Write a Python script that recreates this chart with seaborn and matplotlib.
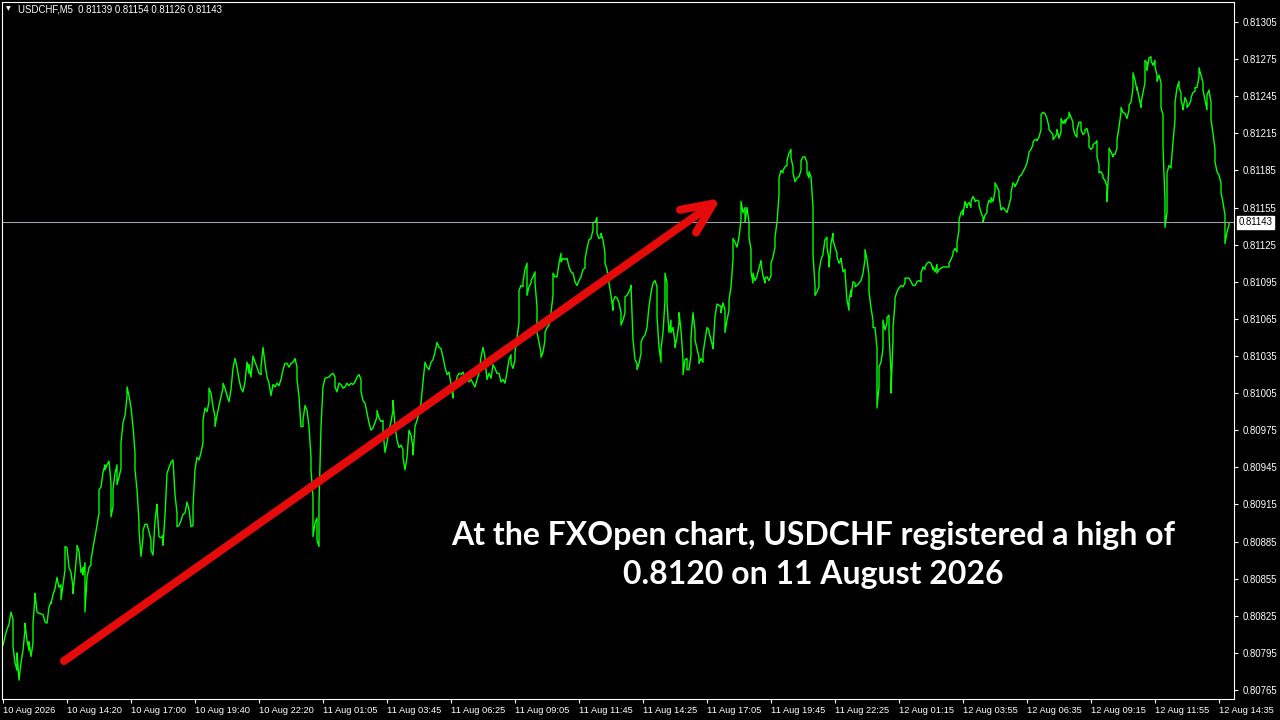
import matplotlib
matplotlib.use("Agg")
import matplotlib.pyplot as plt
import pandas as pd
import seaborn as sns

# USDCHF M5 closes (bar number from the first visible bar)
bar = [
    0, 1, 2, 3, 4, 5, 5, 6, 7, 7,
    8, 9, 10, 11, 11, 12, 13, 13, 14, 15,
    15, 16, 16, 17, 18, 20, 21, 22, 23, 24,
    24, 25, 26, 27, 28, 29, 29, 30, 31, 31,
    32, 33, 34, 35, 35, 36, 37, 37, 38, 39,
    40, 40, 41, 41, 42, 43, 44, 44, 45, 46,
    47, 48, 48, 49, 50, 51, 51, 52, 53, 54,
    54, 55, 55, 56, 57, 57, 58, 59, 59, 60,
    61, 62, 62, 63, 64, 65, 66, 66, 67, 68,
    68, 69, 70, 70, 71, 72, 73, 74, 74, 75,
    76, 77, 77, 78, 79, 80, 80, 81, 82, 83,
    84, 85, 86, 87, 87, 88, 89, 90, 91, 92,
    93, 94, 95, 95, 96, 97, 98, 99,
    100, 100, 101, 102, 103, 103, 104, 105, 106, 106,
    107, 108, 109, 110, 110, 111, 112, 113, 114, 115,
    116, 117, 118, 119, 120, 121, 122, 123, 123, 124,
    125, 126, 127, 128, 129, 129, 130, 131, 132, 133,
    134, 135, 136, 137, 138, 139, 140, 141, 142, 143,
    144, 145, 146, 147, 147, 148, 149, 150, 150, 151,
    152, 153, 154, 154, 155, 155, 156, 157, 157, 158,
    158, 159, 160, 160, 161, 163, 164, 165, 166, 166,
    167, 168, 169, 170, 171, 172, 173, 174, 175, 176,
    177, 178, 179, 179, 180, 181, 182, 183, 184, 185,
    186, 187, 187, 188, 189, 190, 190, 191, 192, 193,
    194, 195, 195, 196, 197, 198, 199,
    200, 200, 201, 202, 203, 204, 205, 205, 206, 207,
    208, 209, 210, 211, 212, 213, 214, 215, 216, 217,
    218, 219, 220, 221, 222, 223, 224, 225, 225, 226,
    227, 228, 229, 230, 231, 232, 233, 234, 235, 236,
    237, 238, 239, 240, 241, 241, 242, 243, 244, 245,
    246, 247, 248, 249, 250, 251, 252, 253, 254, 254,
    255, 256, 256, 257, 258, 258, 259, 260, 260, 261,
    262, 262, 263, 264, 264, 265, 266, 266, 267, 267,
    268, 269, 269, 270, 271, 271, 272, 273, 274, 275,
    275, 276, 277, 278, 279, 279, 280, 281, 282, 283,
    284, 285, 286, 287, 288, 289, 290, 291, 291, 292,
    293, 294, 295, 295, 296, 297, 297, 298, 299, 299,
    300, 301, 301, 302, 303, 304, 305, 305, 306, 307,
    308, 309, 309, 310, 311, 311, 312, 313, 314, 314,
    315, 316, 317, 317, 318, 319, 319, 320, 321, 322,
    323, 324, 325, 326, 327, 327, 328, 329, 329, 330,
    331, 331, 332, 332, 333, 334, 334, 335, 336, 336,
    337, 338, 338, 339, 340, 340, 341, 342, 342, 343,
    344, 344, 345, 346, 346, 347, 348, 348, 349, 350,
    350, 351, 352, 353, 353, 354, 355, 355, 356, 357,
    358, 359, 359, 360, 361, 361, 362, 363, 363, 364,
    365, 365, 366, 367, 368, 369, 369, 370, 371, 371,
    372, 373, 373, 374, 374, 375, 375, 376, 377, 377,
    378, 379, 379, 380, 381, 381, 382, 383, 384, 384,
    385, 386, 386, 387, 388, 388, 389, 390, 390, 391,
    392, 392, 393, 394, 394, 395, 395, 396, 397, 398,
    399,
    399, 400, 401, 402, 402, 403, 403, 404, 405, 405,
    406, 406, 407, 408, 408, 409, 410, 410, 411, 412,
    412, 413, 413, 414, 415, 415, 416, 417, 417, 418,
    419, 419, 420, 421, 421, 422, 423, 423, 424, 424,
    425, 426, 426, 427, 428, 429, 430, 431, 431, 432,
    433, 433, 434, 435, 435, 436, 437, 437, 438, 438,
    439, 440, 440, 441, 442, 442, 443, 443, 444, 444,
    445, 445, 446, 446, 447, 448, 449, 450, 451, 451,
    452, 453, 454, 455, 456, 457, 458, 459, 459, 460,
    461, 461, 462, 463, 464, 465, 465, 466, 467, 467,
    468, 469, 470, 471, 472, 473, 473, 474, 475, 475,
    476, 477, 477, 478, 478, 479, 480, 480, 481, 482,
    482, 483, 484, 484, 485, 486, 486, 487, 488, 488,
    489, 490, 490, 491, 492, 492, 493, 494, 494, 495,
    496, 496, 497, 498, 498,
    499, 500, 501, 502, 503, 504, 504, 505, 506, 506,
    507, 508, 508, 509, 510, 511, 512, 513, 513, 514,
    515, 515, 516, 517, 517, 518, 519, 519, 520, 521,
    522, 523, 523, 524, 525, 525, 526, 527, 527, 528,
    529, 529, 530, 531, 531, 532, 533, 533, 534, 535,
    535, 536, 537, 537, 538, 539, 539, 540, 541, 541,
    542, 543, 543, 544, 545, 545, 546, 547, 547, 548,
    548, 549, 550, 550, 551, 552, 552, 553, 553, 554,
    555, 555, 556, 557, 557, 558, 559, 559, 560, 561,
    562, 563, 563, 564, 565, 565, 566, 567, 567, 568,
    569, 569, 570, 571, 571, 572, 572, 573, 574, 574,
    575, 576, 576, 577, 577, 578, 579, 579, 580, 580,
    581, 581, 582, 582, 583, 584, 584, 585, 586, 586,
    587, 588, 588, 589, 589, 590, 590, 591, 592, 592,
    593, 594, 594, 595, 596, 596, 597, 598, 598, 599,
    600, 600, 601, 602, 602, 603, 604, 604, 605, 606,
    606, 607, 608, 609, 609, 610, 611, 611, 611, 612,
    613, 613,
]

close = [
    0.80801, 0.80808, 0.80814, 0.80818, 0.80828, 0.80822, 0.80800, 0.80787, 0.80781, 0.80795,
    0.80773, 0.80787, 0.80797, 0.80814, 0.80819, 0.80805, 0.80797, 0.80804, 0.80792, 0.80803,
    0.80819, 0.80840, 0.80843, 0.80828, 0.80827, 0.80826, 0.80820, 0.80819, 0.80832, 0.80836,
    0.80835, 0.80842, 0.80847, 0.80856, 0.80848, 0.80850, 0.80838, 0.80850, 0.80862, 0.80881,
    0.80880, 0.80864, 0.80860, 0.80848, 0.80843, 0.80860, 0.80877, 0.80882, 0.80877, 0.80860,
    0.80864, 0.80858, 0.80868, 0.80828, 0.80856, 0.80864, 0.80866, 0.80870, 0.80880, 0.80889,
    0.80898, 0.80908, 0.80927, 0.80929, 0.80941, 0.80947, 0.80943, 0.80947, 0.80950, 0.80932,
    0.80905, 0.80913, 0.80927, 0.80940, 0.80947, 0.80931, 0.80937, 0.80944, 0.80965, 0.80981,
    0.80987, 0.81002, 0.81010, 0.81003, 0.80993, 0.80978, 0.80957, 0.80943, 0.80927, 0.80901,
    0.80894, 0.80873, 0.80888, 0.80894, 0.80899, 0.80899, 0.80893, 0.80886, 0.80878, 0.80874,
    0.80902, 0.80915, 0.80913, 0.80889, 0.80888, 0.80890, 0.80882, 0.80906, 0.80940, 0.80945,
    0.80949, 0.80951, 0.80923, 0.80908, 0.80897, 0.80898, 0.80902, 0.80907, 0.80908, 0.80917,
    0.80911, 0.80897, 0.80898, 0.80913, 0.80943, 0.80953, 0.80951, 0.80957,
    0.80965, 0.80983, 0.80993, 0.80990, 0.80998, 0.81009, 0.81005, 0.80994, 0.80986, 0.80978,
    0.80987, 0.80995, 0.81002, 0.81009, 0.81013, 0.81009, 0.81003, 0.80998, 0.81008, 0.81025,
    0.81033, 0.81026, 0.81016, 0.81009, 0.81006, 0.81014, 0.81030, 0.81021, 0.81028, 0.81018,
    0.81035, 0.81030, 0.81026, 0.81021, 0.81020, 0.81026, 0.81042, 0.81029, 0.81018, 0.81013,
    0.81003, 0.81012, 0.81010, 0.81013, 0.81011, 0.81016, 0.81024, 0.81029, 0.81029, 0.81026,
    0.81029, 0.81030, 0.81033, 0.81026, 0.81016, 0.81002, 0.80978, 0.80978, 0.80983, 0.80995,
    0.80991, 0.80978, 0.80953, 0.80943, 0.80921, 0.80889, 0.80900, 0.80904, 0.80886, 0.80881,
    0.80916, 0.80978, 0.81009, 0.81010, 0.81017, 0.81018, 0.81020, 0.81021, 0.81018, 0.81010,
    0.81006, 0.81013, 0.81012, 0.81009, 0.81010, 0.81013, 0.81011, 0.81013, 0.81012, 0.81014,
    0.81018, 0.81020, 0.81016, 0.81006, 0.80999, 0.80997, 0.80989, 0.80981, 0.80975, 0.80977,
    0.80981, 0.80986, 0.80991, 0.80985, 0.80982, 0.80983, 0.80975, 0.80957, 0.80965, 0.80975,
    0.80982, 0.80991, 0.80999, 0.80978, 0.80967, 0.80961, 0.80963,
    0.80959, 0.80953, 0.80943, 0.80953, 0.80975, 0.80971, 0.80961, 0.80955, 0.80978, 0.80983,
    0.80989, 0.80997, 0.81014, 0.81030, 0.81026, 0.81024, 0.81030, 0.81032, 0.81038, 0.81046,
    0.81042, 0.81041, 0.81034, 0.81026, 0.81020, 0.81022, 0.81012, 0.81001, 0.81006, 0.81010,
    0.81018, 0.81021, 0.81020, 0.81022, 0.81017, 0.81018, 0.81014, 0.81016, 0.81013, 0.81010,
    0.81016, 0.81021, 0.81034, 0.81042, 0.81034, 0.81032, 0.81016, 0.81021, 0.81017, 0.81028,
    0.81025, 0.81021, 0.81021, 0.81014, 0.81016, 0.81013, 0.81022, 0.81032, 0.81036, 0.81029,
    0.81025, 0.81032, 0.81038, 0.81050, 0.81062, 0.81088, 0.81092, 0.81091, 0.81095, 0.81105,
    0.81110, 0.81084, 0.81091, 0.81094, 0.81096, 0.81099, 0.81103, 0.81094, 0.81075, 0.81054,
    0.81046, 0.81038, 0.81034, 0.81038, 0.81048, 0.81054, 0.81058, 0.81060, 0.81070, 0.81084,
    0.81102, 0.81099, 0.81099, 0.81110, 0.81118, 0.81111, 0.81114, 0.81113, 0.81114, 0.81107,
    0.81103, 0.81102, 0.81095, 0.81092, 0.81096, 0.81099, 0.81105, 0.81106, 0.81113, 0.81122,
    0.81129, 0.81130, 0.81137, 0.81143, 0.81143, 0.81147, 0.81134, 0.81130, 0.81131, 0.81134,
    0.81129, 0.81118, 0.81110, 0.81105, 0.81094, 0.81084, 0.81072, 0.81079, 0.81083, 0.81082,
    0.81078, 0.81070, 0.81060, 0.81064, 0.81070, 0.81083, 0.81084, 0.81087, 0.81091, 0.81092,
    0.81048, 0.81032, 0.81029, 0.81024, 0.81029, 0.81037, 0.81046, 0.81050, 0.81052, 0.81058,
    0.81075, 0.81086, 0.81094, 0.81096, 0.81091, 0.81067, 0.81042, 0.81030, 0.81041, 0.81054,
    0.81080, 0.81102, 0.81094, 0.81078, 0.81054, 0.81064, 0.81054, 0.81058, 0.81046, 0.81042,
    0.81050, 0.81062, 0.81070, 0.81056, 0.81032, 0.81020, 0.81032, 0.81033, 0.81024, 0.81024,
    0.81036, 0.81050, 0.81070, 0.81056, 0.81048, 0.81041, 0.81034, 0.81029, 0.81033, 0.81030,
    0.81037, 0.81048, 0.81058, 0.81056, 0.81054, 0.81048, 0.81042, 0.81041, 0.81067, 0.81077,
    0.81076, 0.81075, 0.81070, 0.81078, 0.81072, 0.81054, 0.81064, 0.81072, 0.81080, 0.81091,
    0.81113, 0.81130, 0.81127, 0.81123, 0.81131, 0.81145, 0.81160, 0.81151, 0.81155, 0.81143,
    0.81155, 0.81143, 0.81131, 0.81121, 0.81103, 0.81094, 0.81102, 0.81096, 0.81099, 0.81100,
    0.81106, 0.81112, 0.81110, 0.81100, 0.81094, 0.81098, 0.81099, 0.81096, 0.81100, 0.81110,
    0.81115, 0.81123, 0.81131, 0.81143, 0.81165, 0.81179, 0.81185, 0.81183, 0.81185, 0.81188,
    0.81189, 0.81193, 0.81199, 0.81202, 0.81195, 0.81188, 0.81183, 0.81176, 0.81179, 0.81180,
    0.81185,
    0.81193, 0.81196, 0.81196, 0.81191, 0.81183, 0.81179, 0.81184, 0.81180, 0.81155, 0.81117,
    0.81092, 0.81084, 0.81087, 0.81091, 0.81103, 0.81113, 0.81117, 0.81118, 0.81129, 0.81131,
    0.81123, 0.81113, 0.81107, 0.81126, 0.81134, 0.81129, 0.81123, 0.81118, 0.81115, 0.81110,
    0.81113, 0.81114, 0.81103, 0.81105, 0.81103, 0.81080, 0.81072, 0.81080, 0.81088, 0.81083,
    0.81095, 0.81094, 0.81091, 0.81092, 0.81094, 0.81096, 0.81102, 0.81113, 0.81121, 0.81113,
    0.81100, 0.81087, 0.81074, 0.81064, 0.81058, 0.81058, 0.81042, 0.80993, 0.81010, 0.81026,
    0.81030, 0.81041, 0.81064, 0.81056, 0.81062, 0.81066, 0.81068, 0.81054, 0.81022, 0.81005,
    0.81048, 0.81058, 0.81078, 0.81082, 0.81087, 0.81090, 0.81092, 0.81091, 0.81094, 0.81098,
    0.81098, 0.81098, 0.81095, 0.81092, 0.81092, 0.81095, 0.81096, 0.81095, 0.81102, 0.81107,
    0.81105, 0.81107, 0.81110, 0.81111, 0.81110, 0.81105, 0.81107, 0.81103, 0.81109, 0.81102,
    0.81105, 0.81106, 0.81107, 0.81107, 0.81107, 0.81107, 0.81110, 0.81113, 0.81117, 0.81119,
    0.81122, 0.81119, 0.81127, 0.81137, 0.81145, 0.81151, 0.81153, 0.81149, 0.81160, 0.81155,
    0.81157, 0.81159, 0.81155, 0.81160, 0.81164, 0.81161, 0.81160, 0.81161, 0.81160, 0.81157,
    0.81151, 0.81147, 0.81143, 0.81149, 0.81151, 0.81155, 0.81161, 0.81159, 0.81163, 0.81160,
    0.81168, 0.81175, 0.81172, 0.81168, 0.81165,
    0.81153, 0.81155, 0.81153, 0.81151, 0.81157, 0.81163, 0.81167, 0.81175, 0.81173, 0.81172,
    0.81175, 0.81179, 0.81180, 0.81181, 0.81184, 0.81187, 0.81191, 0.81199, 0.81200, 0.81202,
    0.81206, 0.81208, 0.81210, 0.81210, 0.81209, 0.81212, 0.81218, 0.81230, 0.81232, 0.81231,
    0.81227, 0.81220, 0.81218, 0.81216, 0.81214, 0.81210, 0.81212, 0.81215, 0.81218, 0.81211,
    0.81216, 0.81227, 0.81223, 0.81226, 0.81223, 0.81227, 0.81228, 0.81232, 0.81228, 0.81224,
    0.81220, 0.81214, 0.81212, 0.81218, 0.81224, 0.81224, 0.81218, 0.81214, 0.81216, 0.81218,
    0.81219, 0.81212, 0.81204, 0.81202, 0.81204, 0.81206, 0.81207, 0.81209, 0.81196, 0.81189,
    0.81183, 0.81184, 0.81181, 0.81179, 0.81177, 0.81172, 0.81160, 0.81191, 0.81203, 0.81200,
    0.81196, 0.81198, 0.81198, 0.81203, 0.81210, 0.81220, 0.81232, 0.81236, 0.81232, 0.81231,
    0.81227, 0.81234, 0.81238, 0.81240, 0.81252, 0.81264, 0.81258, 0.81250, 0.81252, 0.81244,
    0.81236, 0.81240, 0.81248, 0.81256, 0.81274, 0.81272, 0.81266, 0.81276, 0.81277, 0.81274,
    0.81270, 0.81274, 0.81269, 0.81262, 0.81257, 0.81262, 0.81256, 0.81236, 0.81230, 0.81204,
    0.81161, 0.81139, 0.81151, 0.81183, 0.81189, 0.81187, 0.81188, 0.81208, 0.81226, 0.81240,
    0.81252, 0.81257, 0.81252, 0.81248, 0.81242, 0.81236, 0.81234, 0.81244, 0.81240, 0.81236,
    0.81238, 0.81242, 0.81244, 0.81248, 0.81249, 0.81252, 0.81252, 0.81261, 0.81268, 0.81262,
    0.81256, 0.81250, 0.81242, 0.81234, 0.81246, 0.81250, 0.81240, 0.81226, 0.81215, 0.81202,
    0.81192, 0.81184, 0.81181, 0.81175, 0.81167, 0.81159, 0.81149, 0.81137, 0.81126, 0.81135,
    0.81141, 0.81143,
]

time_labels = [
    "10 Aug 2026", "10 Aug 14:20", "10 Aug 17:00", "10 Aug 19:40", "10 Aug 22:20",
    "11 Aug 01:05", "11 Aug 03:45", "11 Aug 06:25", "11 Aug 09:05", "11 Aug 11:45",
    "11 Aug 14:25", "11 Aug 17:05", "11 Aug 19:45", "11 Aug 22:25", "12 Aug 01:15",
    "12 Aug 03:55", "12 Aug 06:35", "12 Aug 09:15", "12 Aug 11:55", "12 Aug 14:35",
]
bars_per_label = 32
price_ticks = [0.80765, 0.80795, 0.80825, 0.80855, 0.80885, 0.80915, 0.80945,
               0.80975, 0.81005, 0.81035, 0.81065, 0.81095, 0.81125, 0.81155,
               0.81185, 0.81215, 0.81245, 0.81275, 0.81305]
ohlc = [0.81139, 0.81154, 0.81126, 0.81143]

df = pd.DataFrame({"bar": bar, "close": close})

sns.set_theme(style="dark", rc={
    "figure.facecolor": "black", "axes.facecolor": "black",
    "axes.edgecolor": "white", "axes.linewidth": 0.8,
    "xtick.color": "white", "ytick.color": "white", "text.color": "white",
    "axes.grid": False,
})
plt.rcParams["font.family"] = ["Liberation Sans", "DejaVu Sans"]

fig = plt.figure(figsize=(12.8, 7.2), dpi=100)
ax = fig.add_axes([2 / 1280, 21 / 720, 1232 / 1280, 697 / 720])

sns.lineplot(data=df, x="bar", y="close", estimator=None, sort=False,
             color="#00ff00", linewidth=1.0, ax=ax)

ax.set_xlim(-0.5, 615.5)
ax.set_ylim(0.807577, 0.813212)
ax.set_xlabel("")
ax.set_ylabel("")

# time axis like the terminal: one label every 32 bars, left aligned
ax.set_xticks([k * bars_per_label for k in range(len(time_labels))])
ax.set_xticklabels(time_labels, ha="left", fontsize=6.7)
ax.tick_params(axis="x", direction="out", length=3, width=0.8, pad=2,
               colors="white", bottom=True)

ax.yaxis.tick_right()
ax.set_yticks(price_ticks)
ax.set_yticklabels([f"{p:.5f}" for p in price_ticks], fontsize=6.9)
ax.tick_params(axis="y", direction="out", length=3, width=0.8, pad=3,
               colors="white", right=True)

for s in ax.spines.values():
    s.set_color("white")
    s.set_linewidth(0.8)

# current price line and label
last = close[-1]
ax.axhline(last, color="#a0a0a8", linewidth=0.8)
ax.annotate(f"{last:.5f}", xy=(1, last), xycoords=("axes fraction", "data"),
            xytext=(3, 0), textcoords="offset points", va="center", ha="left",
            fontsize=6.9, color="black", annotation_clip=False,
            bbox=dict(boxstyle="square,pad=0.15", fc="white", ec="white"))

# header
fig.text(6 / 1280, 1 - 9 / 720, "\u25bc", fontsize=4.5, va="center",
         family=["DejaVu Sans"], color="white")
fig.text(18 / 1280, 1 - 10 / 720,
         "USDCHF,M5  " + " ".join(f"{v:.5f}" for v in ohlc),
         fontsize=6.9, va="center", color="white")

# red trend arrow
ax.annotate("", xy=(721 / 1280, 1 - 198 / 720), xycoords="figure fraction",
            xytext=(64 / 1280, 1 - 661 / 720), textcoords="figure fraction",
            arrowprops=dict(arrowstyle="->,head_length=2.2,head_width=1.0",
                            color="#e60b0b", lw=5.8, capstyle="round",
                            joinstyle="round", mutation_scale=10,
                            shrinkA=0, shrinkB=0))

fig.text(813 / 1280, 1 - 555 / 720,
         "At the FXOpen chart, USDCHF registered a high of\n0.8120 on 11 August 2026",
         ha="center", va="center", fontsize=23, fontweight="bold",
         family=["Lato", "DejaVu Sans"], color="white", linespacing=1.45)

fig.savefig("out.png", dpi=100, facecolor="black")
